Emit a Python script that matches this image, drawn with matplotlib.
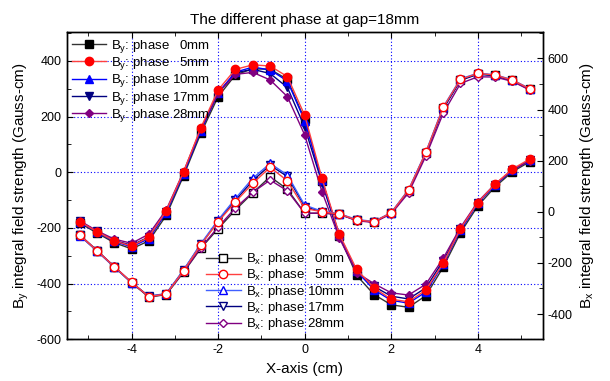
import numpy as np
import matplotlib
matplotlib.use("Agg")
import matplotlib.pyplot as plt
from matplotlib.ticker import MultipleLocator

plt.rcParams['font.family'] = ['Liberation Sans', 'DejaVu Sans']
plt.rcParams['mathtext.default'] = 'regular'
plt.rcParams['axes.unicode_minus'] = False

x = np.round(np.arange(-5.2, 5.21, 0.4), 1)

phases = ['  0mm', '  5mm', '10mm', '17mm', '28mm']

by_0 = [-182, -218, -253, -275, -246, -155, -13, 140, 272, 350, 372, 370, 334, 190, -30, -228, -370, -439, -476, -485, -443, -341, -217, -121, -52, 2, 38]
by_5 = [-177, -213, -246, -265, -233, -139, 1, 160, 296, 370, 386, 382, 344, 205, -22, -222, -349, -415, -456, -465, -423, -327, -203, -109, -42, 12, 48]
by_10 = [-178, -214, -248, -268, -238, -145, -5, 150, 285, 360, 378, 368, 328, 185, -28, -225, -355, -422, -460, -470, -430, -330, -208, -112, -45, 8, 44]
by_17 = [-176, -212, -245, -262, -232, -142, -3, 152, 285, 358, 370, 355, 305, 162, -38, -230, -358, -410, -445, -455, -415, -318, -205, -110, -44, 8, 44]
by_28 = [-174, -210, -240, -255, -222, -135, 2, 155, 285, 352, 359, 332, 272, 134, -70, -236, -360, -400, -433, -441, -402, -309, -198, -106, -42, 8, 42]

bx_0 = [-91, -152, -215, -278, -334, -324, -237, -143, -66, 7, 74, 137, 88, -6, -6, -9, -33, -40, -5, 83, 230, 405, 516, 540, 534, 514, 480]
bx_5 = [-91, -152, -215, -276, -332, -322, -231, -130, -39, 39, 111, 174, 121, 13, 0, -9, -32, -39, -4, 85, 232, 408, 518, 541, 535, 515, 481]
bx_10 = [-93, -154, -217, -278, -330, -320, -228, -125, -32, 52, 131, 189, 144, 26, 2, -8, -30, -38, -3, 87, 234, 410, 520, 542, 536, 516, 482]
bx_17 = [-92, -153, -216, -277, -331, -321, -229, -128, -36, 45, 122, 182, 138, 20, 0, -10, -33, -40, -5, 82, 228, 402, 514, 538, 532, 512, 478]
bx_28 = [-90, -151, -214, -276, -333, -322, -235, -140, -60, 15, 76, 124, 82, -6, -5, -10, -35, -42, -8, 74, 218, 385, 502, 528, 527, 510, 476]

by_series = [by_0, by_5, by_10, by_17, by_28]
bx_series = [bx_0, bx_5, bx_10, bx_17, bx_28]

colors = ['black', 'red', 'blue', '#000080', '#800080']
line_colors = ['#333333', '#ff4040', 'blue', '#000080', '#800080']
markers = ['s', 'o', '^', 'v', 'D']
msizes = [5.5, 6, 6, 6, 4.5]
zorders = [3, 7, 5, 4, 6]

fig = plt.figure(figsize=(6.1, 3.81), dpi=100)
ax1 = fig.add_axes([0.1093, 0.1094, 0.7804, 0.8058])
ax2 = ax1.twinx()

h1 = []
for s, c, lc, m, ms, z, p in zip(by_series, colors, line_colors, markers, msizes, zorders, phases):
    ln, = ax1.plot(x, s, color=lc, lw=1.0, marker=m, ms=ms, mfc=c, mec=c, zorder=z,
                   label='B$_y$: phase ' + p)
    h1.append(ln)

h2 = []
bx_line_colors = ['#333333', '#ff4040', '#4060ff', '#000080', '#800080']
for s, c, lc, m, ms, z, p in zip(bx_series, colors, bx_line_colors, markers, msizes, zorders, phases):
    ln, = ax2.plot(x, s, color=lc, lw=1.0, marker=m, ms=ms, mfc='white', mec=c, mew=1.0, zorder=z,
                   label='B$_x$: phase ' + p)
    h2.append(ln)

ax1.set_xlim(-5.5, 5.5)
ax1.set_ylim(-600, 503)
ax2.set_ylim(-499, 702)

ax1.xaxis.set_major_locator(MultipleLocator(2))
ax1.xaxis.set_minor_locator(MultipleLocator(1))
ax1.yaxis.set_major_locator(MultipleLocator(200))
ax1.yaxis.set_minor_locator(MultipleLocator(100))
ax2.yaxis.set_major_locator(MultipleLocator(200))
ax2.yaxis.set_minor_locator(MultipleLocator(100))
ax2.set_yticks([-400, -200, 0, 200, 400, 600])
ax1.set_yticks([-600, -400, -200, 0, 200, 400])

ax1.tick_params(axis='both', which='both', direction='in', labelsize=9)
ax1.tick_params(axis='x', which='both', top=True)
ax1.tick_params(which='major', length=4)
ax1.tick_params(which='minor', length=3)
ax2.tick_params(axis='y', which='both', direction='in', labelsize=9)
ax2.tick_params(which='major', length=4)
ax2.tick_params(which='minor', length=3)

ax1.grid(True, which='major', color='blue', linestyle=(0, (1, 2)), linewidth=0.8)
ax1.set_axisbelow(True)

for sp in ax1.spines.values():
    sp.set_linewidth(1.0)
for sp in ax2.spines.values():
    sp.set_linewidth(1.0)

ax1.set_xlabel('X-axis (cm)', fontsize=11)
ax1.set_ylabel('B$_y$ integral field strength (Gauss-cm)', fontsize=11)
ax2.set_ylabel('B$_x$ integral field strength (Gauss-cm)', fontsize=11)
ax1.set_title('The different phase at gap=18mm', fontsize=11)

leg1 = ax2.legend(handles=h1, loc='upper left', bbox_to_anchor=(0.002, 0.995), frameon=False,
                  fontsize=9.5, handlelength=2.6, labelspacing=0.02, borderpad=0.3,
                  borderaxespad=0.0, handletextpad=0.4)
ax2.add_artist(leg1)
leg2 = ax2.legend(handles=h2, loc='upper left', bbox_to_anchor=(0.285, 0.30), frameon=False,
                  fontsize=9.5, handlelength=2.6, labelspacing=0.02, borderpad=0.3,
                  borderaxespad=0.0, handletextpad=0.4)

fig.savefig('out.png', dpi=100)
